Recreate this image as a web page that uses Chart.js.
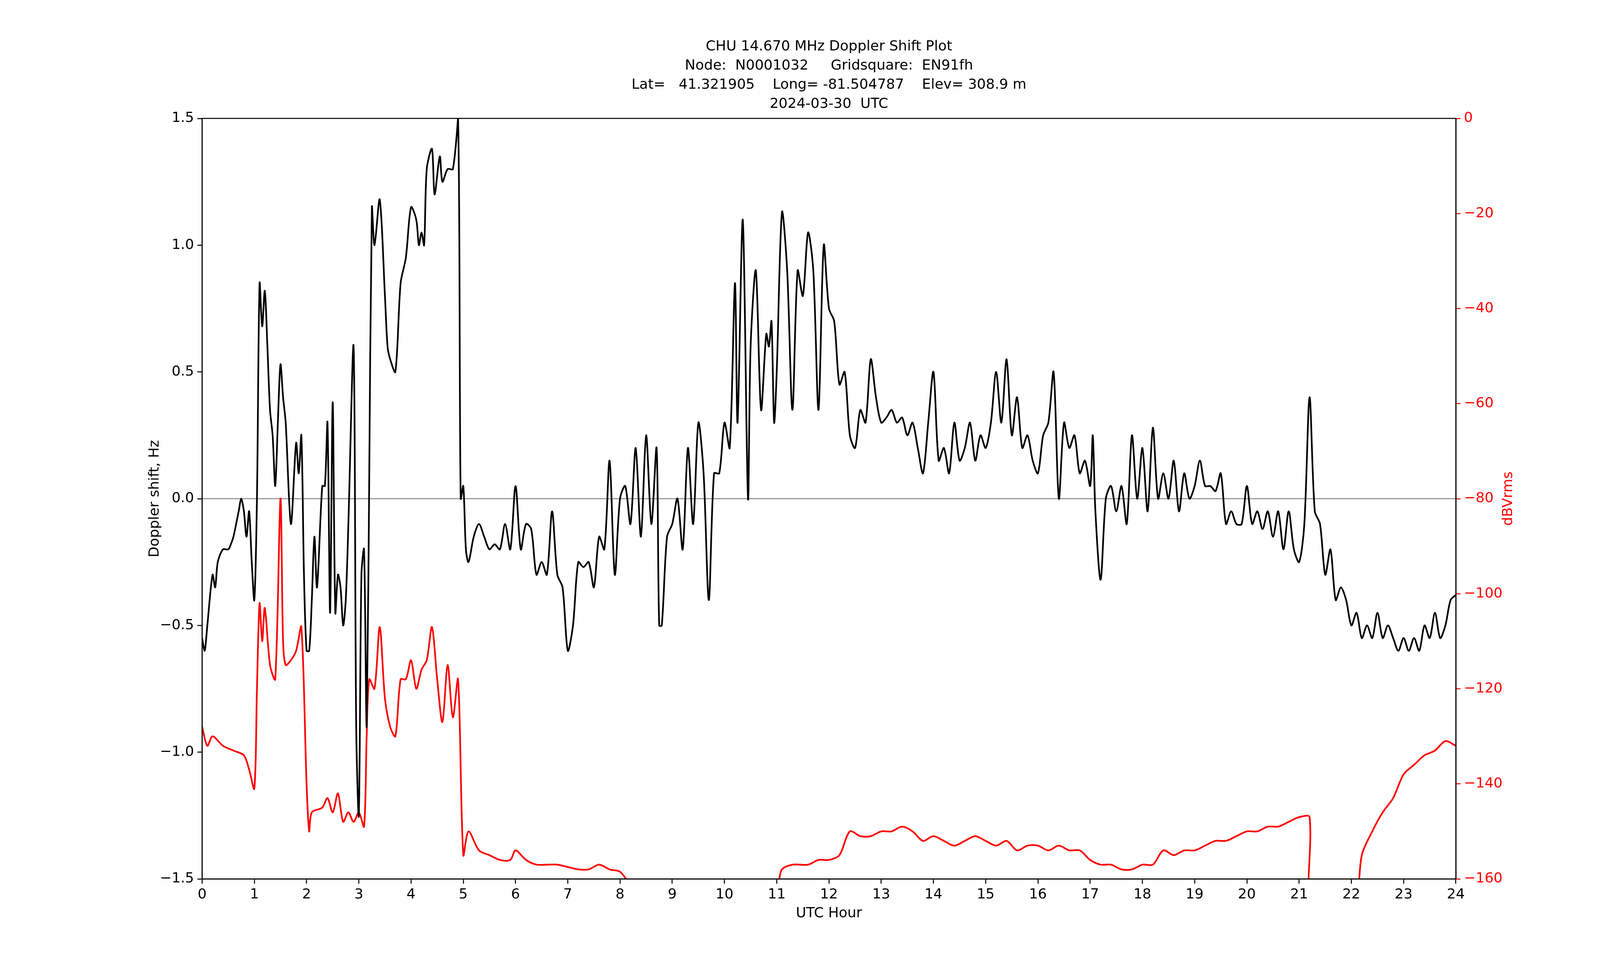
<!DOCTYPE html>
<html><head><meta charset="utf-8">
<script src="https://cdn.jsdelivr.net/npm/chart.js@4.4.1/dist/chart.umd.min.js"></script>
<style>html,body{margin:0;padding:0;background:#fff;overflow:hidden}#c{display:block}</style>
</head><body>
<canvas id="c"></canvas>
<script>
const titleLines = ["CHU 14.670 MHz Doppler Shift Plot","Node:  N0001032     Gridsquare:  EN91fh","Lat=   41.321905    Long= -81.504787    Elev= 308.9 m","2024-03-30  UTC"];
const dopHours = [0,0.05,0.1,0.2,0.25,0.3,0.4,0.5,0.55,0.6,0.7,0.75,0.8,0.85,0.9,0.95,1.0,1.05,1.1,1.15,1.2,1.25,1.3,1.35,1.4,1.45,1.5,1.55,1.6,1.7,1.8,1.85,1.9,1.95,2.0,2.05,2.1,2.15,2.2,2.3,2.35,2.4,2.45,2.5,2.55,2.6,2.65,2.7,2.75,2.8,2.9,2.95,3.0,3.05,3.1,3.15,3.2,3.25,3.3,3.4,3.5,3.55,3.6,3.7,3.8,3.9,4.0,4.1,4.15,4.2,4.25,4.3,4.4,4.45,4.55,4.6,4.7,4.8,4.9,4.95,5.0,5.05,5.1,5.2,5.3,5.4,5.5,5.6,5.7,5.8,5.9,6.0,6.1,6.2,6.3,6.4,6.5,6.6,6.7,6.8,6.9,7.0,7.1,7.2,7.3,7.4,7.5,7.6,7.7,7.8,7.9,8.0,8.1,8.2,8.3,8.4,8.5,8.6,8.7,8.75,8.8,8.9,9.0,9.1,9.2,9.3,9.4,9.5,9.6,9.7,9.8,9.9,10.0,10.1,10.2,10.25,10.35,10.45,10.5,10.6,10.7,10.8,10.85,10.9,10.95,11.0,11.1,11.2,11.3,11.4,11.5,11.6,11.7,11.8,11.9,12.0,12.1,12.2,12.3,12.4,12.5,12.6,12.7,12.8,12.9,13.0,13.1,13.2,13.3,13.4,13.5,13.6,13.7,13.8,13.9,14.0,14.1,14.2,14.3,14.4,14.5,14.6,14.7,14.8,14.9,15.0,15.1,15.2,15.3,15.4,15.5,15.6,15.7,15.8,15.9,16.0,16.1,16.2,16.3,16.4,16.5,16.6,16.7,16.8,16.9,17.0,17.05,17.1,17.2,17.3,17.4,17.5,17.6,17.7,17.8,17.9,18.0,18.1,18.2,18.3,18.4,18.5,18.6,18.7,18.8,18.9,19.0,19.1,19.2,19.3,19.4,19.5,19.6,19.7,19.8,19.9,20.0,20.1,20.2,20.3,20.4,20.5,20.6,20.7,20.8,20.9,21.0,21.1,21.2,21.3,21.4,21.5,21.6,21.7,21.8,21.9,22.0,22.1,22.2,22.3,22.4,22.5,22.6,22.7,22.8,22.9,23.0,23.1,23.2,23.3,23.4,23.5,23.6,23.7,23.8,23.9,24.0];
const dopValues = [-0.55,-0.6,-0.5,-0.3,-0.35,-0.25,-0.2,-0.2,-0.18,-0.15,-0.05,0.0,-0.05,-0.15,-0.05,-0.25,-0.4,0.0,0.85,0.68,0.82,0.6,0.35,0.25,0.05,0.3,0.53,0.4,0.3,-0.1,0.22,0.1,0.25,-0.3,-0.6,-0.6,-0.4,-0.15,-0.35,0.05,0.05,0.3,-0.45,0.38,-0.45,-0.3,-0.35,-0.5,-0.4,-0.1,0.6,-0.9,-1.25,-0.3,-0.2,-0.9,0.1,1.15,1.0,1.18,0.8,0.6,0.55,0.5,0.85,0.95,1.15,1.1,1.0,1.05,1.0,1.3,1.38,1.2,1.35,1.25,1.3,1.3,1.5,0.0,0.05,-0.2,-0.25,-0.15,-0.1,-0.15,-0.2,-0.18,-0.2,-0.1,-0.2,0.05,-0.2,-0.1,-0.12,-0.3,-0.25,-0.3,-0.05,-0.3,-0.35,-0.6,-0.5,-0.25,-0.27,-0.25,-0.35,-0.15,-0.2,0.15,-0.3,0.0,0.05,-0.1,0.2,-0.15,0.25,-0.1,0.2,-0.5,-0.5,-0.15,-0.1,0.0,-0.2,0.2,-0.1,0.3,0.1,-0.4,0.1,0.1,0.3,0.2,0.85,0.3,1.1,0.0,0.6,0.9,0.35,0.65,0.6,0.7,0.3,0.5,1.13,0.9,0.35,0.9,0.8,1.05,0.9,0.35,1.0,0.75,0.7,0.45,0.5,0.25,0.2,0.35,0.3,0.55,0.4,0.3,0.32,0.35,0.3,0.32,0.25,0.3,0.2,0.1,0.3,0.5,0.15,0.2,0.1,0.3,0.15,0.2,0.3,0.15,0.25,0.2,0.3,0.5,0.3,0.55,0.25,0.4,0.2,0.25,0.15,0.1,0.25,0.3,0.5,0.0,0.3,0.2,0.25,0.1,0.15,0.05,0.25,-0.05,-0.32,0.0,0.05,-0.05,0.05,-0.1,0.25,0.0,0.2,-0.05,0.28,0.0,0.1,0.0,0.15,-0.05,0.1,0.0,0.05,0.15,0.05,0.05,0.03,0.1,-0.1,-0.05,-0.1,-0.1,0.05,-0.1,-0.05,-0.12,-0.05,-0.15,-0.05,-0.2,-0.05,-0.2,-0.25,-0.1,0.4,-0.05,-0.1,-0.3,-0.2,-0.4,-0.35,-0.4,-0.5,-0.45,-0.55,-0.5,-0.55,-0.45,-0.55,-0.5,-0.55,-0.6,-0.55,-0.6,-0.55,-0.6,-0.5,-0.55,-0.45,-0.55,-0.5,-0.4,-0.38];
const pwrHours = [0,0.1,0.2,0.4,0.6,0.8,0.9,1.0,1.05,1.1,1.15,1.2,1.3,1.4,1.5,1.55,1.6,1.7,1.8,1.9,2.0,2.05,2.1,2.3,2.4,2.5,2.6,2.7,2.8,2.9,3.0,3.1,3.15,3.2,3.3,3.4,3.5,3.6,3.7,3.8,3.9,4.0,4.1,4.2,4.3,4.4,4.5,4.6,4.7,4.8,4.9,5.0,5.1,5.3,5.5,5.7,5.9,6.0,6.2,6.4,6.6,6.8,7.0,7.2,7.4,7.6,7.8,8.0,8.2,8.5,9.0,9.5,10,10.5,11,11.1,11.3,11.6,11.8,12.0,12.2,12.4,12.6,12.8,13.0,13.2,13.4,13.6,13.8,14.0,14.2,14.4,14.6,14.8,15.0,15.2,15.4,15.6,15.8,16.0,16.2,16.4,16.6,16.8,17.0,17.2,17.4,17.6,17.8,18.0,18.2,18.4,18.6,18.8,19.0,19.2,19.4,19.6,19.8,20.0,20.2,20.4,20.6,20.8,21.0,21.2,21.25,22.0,22.2,22.4,22.6,22.8,23.0,23.2,23.4,23.6,23.8,24.0];
const pwrValues = [-128,-132,-130,-132,-133,-134,-137,-141,-120,-102,-110,-103,-115,-118,-80,-110,-115,-114,-112,-107,-140,-150,-146,-145,-143,-146,-142,-148,-146,-148,-146,-149,-130,-118,-120,-107,-122,-128,-130,-118,-118,-114,-120,-116,-114,-107,-118,-127,-115,-126,-118,-155,-150,-154,-155,-156,-156,-154,-156,-157,-157,-157,-157.5,-158,-158,-157,-158,-158.5,-161,-162,-161,-162,-162,-162,-161,-158,-157,-157,-156,-156,-155,-150,-151,-151,-150,-150,-149,-150,-152,-151,-152,-153,-152,-151,-152,-153,-152,-154,-153,-153,-154,-153,-154,-154,-156,-157,-157,-158,-158,-157,-157,-154,-155,-154,-154,-153,-152,-152,-151,-150,-150,-149,-149,-148,-147,-147,-170,-170,-155,-150,-146,-143,-138,-136,-134,-133,-131,-132];
const xTicks = [0,1,2,3,4,5,6,7,8,9,10,11,12,13,14,15,16,17,18,19,20,21,22,23,24];
const FONT = "'DejaVu Sans'";
const W = window.innerWidth || 4750, H = window.innerHeight || 2500;
const sx = W/4750, sy = H/2500, s = Math.min(sx, sy);
const L=600*sx, R=4322*sx, T=303*sy, B=2249*sy;
const fs = Math.round(42*s), lw = 5*s;
const cv = document.getElementById('c');
cv.width = W; cv.height = H; cv.style.width = W+'px'; cv.style.height = H+'px';

const textPlugin = {
  id:'texts',
  afterDraw(chart){
    const c=chart.ctx, a=chart.chartArea;
    c.save();
    c.strokeStyle='#000'; c.lineWidth=3*s;
    c.strokeRect(a.left,a.top,a.right-a.left,a.bottom-a.top);
    c.font=fs+"px "+FONT; c.fillStyle='#000'; c.textAlign='center'; c.textBaseline='middle';
    const cx=(a.left+a.right)/2;
    titleLines.forEach((t,i)=>c.fillText(t,cx,(120+i*49)*sy));
    c.fillText("UTC Hour",cx,2338*sy);
    c.translate(460*sx,(a.top+a.bottom)/2); c.rotate(-Math.PI/2);
    c.fillText("Doppler shift, Hz",0,0);
    c.restore(); c.save();
    c.font=fs+"px "+FONT; c.fillStyle='red'; c.textAlign='center'; c.textBaseline='middle';
    c.translate(4478*sx,(a.top+a.bottom)/2); c.rotate(-Math.PI/2);
    c.fillText("dBVrms",0,0);
    c.restore();
  }
};

new Chart(cv,{
  type:'line',
  data:{datasets:[
    {data:[{x:0,y:0},{x:24,y:0}],borderColor:'#888',borderWidth:3*s,pointRadius:0,yAxisID:'y',order:3},
    {data:pwrHours.map((h,i)=>({x:h,y:pwrValues[i]})),borderColor:'red',borderWidth:lw,pointRadius:0,yAxisID:'y2',tension:0.3,order:2},
    {data:dopHours.map((h,i)=>({x:h,y:dopValues[i]})),borderColor:'#000',borderWidth:lw,pointRadius:0,yAxisID:'y',tension:0.3,order:1}
  ]},
  options:{
    responsive:false,animation:false,devicePixelRatio:1,
    layout:{padding:{top:T,left:0,right:0,bottom:0}},
    plugins:{legend:{display:false},tooltip:{enabled:false}},
    scales:{
      x:{type:'linear',min:0,max:24,afterBuildTicks:sc=>{sc.ticks=xTicks.map(v=>({value:v}));},
        afterFit:sc=>{sc.height=H-B;},
        grid:{drawOnChartArea:false,drawTicks:true,tickLength:14*s,tickWidth:3*s,color:'#000'},
        border:{display:true,color:'#000',width:3*s},
        ticks:{color:'#000',font:{family:FONT,size:fs},padding:8*s,maxRotation:0,autoSkip:false}},
      y:{position:'left',min:-1.5,max:1.5,afterBuildTicks:sc=>{sc.ticks=[-1.5,-1,-0.5,0,0.5,1,1.5].map(v=>({value:v}));},
        afterFit:sc=>{sc.width=L;},
        grid:{drawOnChartArea:false,tickLength:14*s,tickWidth:3*s,color:'#000'},
        border:{display:true,color:'#000',width:3*s},
        ticks:{color:'#000',font:{family:FONT,size:fs},padding:10*s,callback:v=>(v<0?'\u2212':'')+Math.abs(v).toFixed(1)}},
      y2:{position:'right',min:-160,max:0,afterBuildTicks:sc=>{sc.ticks=[-160,-140,-120,-100,-80,-60,-40,-20,0].map(v=>({value:v}));},
        afterFit:sc=>{sc.width=W-R;},
        grid:{drawOnChartArea:false,tickLength:14*s,tickWidth:3*s,color:'red'},
        border:{display:true,color:'#000',width:3*s},
        ticks:{color:'red',font:{family:FONT,size:fs},padding:10*s,callback:v=>(v<0?'\u2212':'')+Math.abs(v)}}
    }
  },
  plugins:[textPlugin]
});
</script>
</body></html>
